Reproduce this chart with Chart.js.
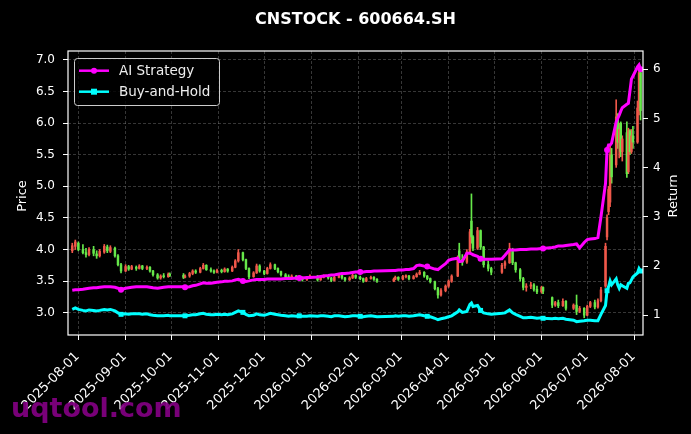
<!DOCTYPE html>
<html>
<head>
<meta charset="utf-8">
<script src="https://cdn.jsdelivr.net/npm/chart.js@4.4.1/dist/chart.umd.min.js"></script>
<style>
  html, body { margin: 0; padding: 0; background: #000; }
  #wrap { width: 691px; height: 434px; }
</style>
</head>
<body>
<div id="wrap"><canvas id="chart" width="691" height="434"></canvas></div>
<script>
// trading days (sampled), one entry per candle
const dates = [
  '2025-07-28','2025-07-30',
  '2025-08-01','2025-08-04','2025-08-06','2025-08-08','2025-08-11','2025-08-13','2025-08-15','2025-08-18','2025-08-20','2025-08-22','2025-08-25','2025-08-27','2025-08-29',
  '2025-09-01','2025-09-03','2025-09-05','2025-09-08','2025-09-10','2025-09-12','2025-09-15','2025-09-17','2025-09-19','2025-09-22','2025-09-24','2025-09-26','2025-09-29','2025-09-30',
  '2025-10-09','2025-10-10','2025-10-13','2025-10-15','2025-10-17','2025-10-20','2025-10-22','2025-10-24','2025-10-27','2025-10-29','2025-10-31',
  '2025-11-03','2025-11-05','2025-11-07','2025-11-10','2025-11-12','2025-11-14','2025-11-17','2025-11-19','2025-11-21','2025-11-24','2025-11-26','2025-11-28',
  '2025-12-01','2025-12-03','2025-12-05','2025-12-08','2025-12-10','2025-12-12','2025-12-15','2025-12-17','2025-12-19','2025-12-22','2025-12-24','2025-12-26','2025-12-29','2025-12-31',
  '2026-01-05','2026-01-07','2026-01-09','2026-01-12','2026-01-14','2026-01-16','2026-01-19','2026-01-21','2026-01-23','2026-01-26','2026-01-28','2026-01-30',
  '2026-02-02','2026-02-04','2026-02-06','2026-02-09','2026-02-11','2026-02-13','2026-02-24','2026-02-25','2026-02-27',
  '2026-03-02','2026-03-04','2026-03-06','2026-03-09','2026-03-11','2026-03-13','2026-03-16','2026-03-18','2026-03-20','2026-03-23','2026-03-25','2026-03-27','2026-03-30',
  '2026-04-01','2026-04-03','2026-04-07','2026-04-08','2026-04-10','2026-04-13','2026-04-15','2026-04-16','2026-04-17','2026-04-20','2026-04-22','2026-04-24','2026-04-27','2026-04-29',
  '2026-05-06','2026-05-08','2026-05-11','2026-05-13','2026-05-15','2026-05-18','2026-05-20','2026-05-22','2026-05-25','2026-05-27','2026-05-29',
  '2026-06-01','2026-06-02','2026-06-08','2026-06-10','2026-06-12','2026-06-15','2026-06-17','2026-06-22','2026-06-24','2026-06-26','2026-06-29',
  '2026-07-01','2026-07-03','2026-07-06','2026-07-08','2026-07-10','2026-07-13','2026-07-14','2026-07-15','2026-07-16','2026-07-17','2026-07-20','2026-07-21','2026-07-22','2026-07-23','2026-07-24','2026-07-27','2026-07-28','2026-07-29','2026-07-30','2026-07-31',
  '2026-08-03','2026-08-04','2026-08-05'
];

const open = [
  3.98, 4.05,
  4.10, 4.00, 3.95, 3.92, 4.00, 3.93, 3.90, 3.96, 4.04, 3.97, 4.02, 3.90, 3.76,
  3.66, 3.73, 3.69, 3.72, 3.70, 3.74, 3.70, 3.72, 3.66, 3.60, 3.55, 3.58, 3.57, 3.61,
  3.59, 3.56, 3.58, 3.62, 3.66, 3.64, 3.70, 3.75, 3.68, 3.66, 3.64,
  3.67, 3.65, 3.69, 3.66, 3.72, 3.82, 3.95, 3.84, 3.70, 3.57, 3.63, 3.74,
  3.66, 3.62, 3.70, 3.76, 3.70, 3.65, 3.60, 3.57, 3.55, 3.58, 3.54, 3.56, 3.52, 3.55,
  3.58, 3.52, 3.56, 3.58, 3.55, 3.51, 3.56, 3.59, 3.55, 3.52, 3.55, 3.59,
  3.56, 3.54, 3.50, 3.54, 3.56, 3.53, 3.50, 3.53, 3.56,
  3.53, 3.57, 3.58, 3.54, 3.57, 3.61, 3.64, 3.58, 3.54, 3.49, 3.38, 3.28, 3.35,
  3.42, 3.50, 3.58, 3.98, 3.84, 3.80, 3.96, 4.45, 4.20, 4.02, 4.30, 4.04, 3.76, 3.70,
  3.64, 3.75, 3.79, 4.00, 3.79, 3.68, 3.54, 3.40, 3.42, 3.44, 3.37,
  3.33, 3.40, 3.24, 3.12, 3.16, 3.11, 3.18, 3.07, 3.12, 3.02, 3.07,
  2.96, 3.10, 3.16, 3.09, 3.19, 3.42, 4.20, 4.60, 4.75, 5.50, 5.34, 6.10, 5.70, 6.00, 5.55, 5.85, 5.23, 5.88, 5.55, 5.80,
  5.70, 6.24, 6.80
];

const high = [
  4.10, 4.15,
  4.12, 4.08, 4.02, 4.03, 4.05, 3.98, 4.00, 4.08, 4.07, 4.06, 4.04, 3.92, 3.78,
  3.76, 3.75, 3.75, 3.74, 3.76, 3.75, 3.74, 3.73, 3.67, 3.62, 3.60, 3.62, 3.63, 3.63,
  3.62, 3.60, 3.64, 3.68, 3.68, 3.72, 3.78, 3.76, 3.71, 3.68, 3.69,
  3.69, 3.71, 3.70, 3.74, 3.84, 4.00, 3.96, 3.85, 3.71, 3.65, 3.77, 3.76,
  3.67, 3.72, 3.79, 3.77, 3.71, 3.66, 3.62, 3.60, 3.60, 3.59, 3.58, 3.57, 3.57, 3.60,
  3.59, 3.58, 3.60, 3.59, 3.56, 3.58, 3.61, 3.60, 3.56, 3.57, 3.61, 3.60,
  3.58, 3.55, 3.56, 3.58, 3.57, 3.54, 3.55, 3.58, 3.57,
  3.59, 3.60, 3.59, 3.59, 3.63, 3.67, 3.65, 3.59, 3.55, 3.50, 3.40, 3.38, 3.44,
  3.52, 3.60, 3.90, 4.10, 3.92, 4.00, 4.32, 4.88, 4.22, 4.35, 4.31, 4.05, 3.82, 3.72,
  3.78, 3.82, 4.10, 4.02, 3.80, 3.70, 3.56, 3.46, 3.48, 3.46, 3.42,
  3.42, 3.41, 3.25, 3.18, 3.20, 3.22, 3.19, 3.14, 3.28, 3.10, 3.08,
  3.12, 3.18, 3.20, 3.22, 3.40, 4.10, 4.55, 5.00, 5.65, 5.60, 6.37, 6.15, 6.00, 6.02, 5.80, 6.02, 5.92, 5.90, 5.90, 5.95,
  6.35, 6.87, 6.85
];

const low = [
  3.95, 4.00,
  3.98, 3.93, 3.88, 3.90, 3.90, 3.86, 3.88, 3.94, 3.95, 3.95, 3.88, 3.74, 3.63,
  3.65, 3.67, 3.68, 3.67, 3.69, 3.68, 3.68, 3.64, 3.58, 3.53, 3.53, 3.55, 3.56, 3.57,
  3.54, 3.55, 3.56, 3.60, 3.62, 3.63, 3.69, 3.67, 3.64, 3.62, 3.63,
  3.63, 3.64, 3.64, 3.65, 3.71, 3.80, 3.82, 3.68, 3.54, 3.56, 3.62, 3.64,
  3.60, 3.61, 3.69, 3.68, 3.63, 3.58, 3.55, 3.53, 3.54, 3.52, 3.52, 3.50, 3.51, 3.54,
  3.50, 3.51, 3.55, 3.53, 3.49, 3.50, 3.55, 3.53, 3.50, 3.51, 3.54, 3.54,
  3.52, 3.48, 3.49, 3.53, 3.51, 3.48, 3.49, 3.52, 3.51,
  3.52, 3.55, 3.52, 3.53, 3.56, 3.60, 3.56, 3.52, 3.47, 3.36, 3.23, 3.26, 3.33,
  3.40, 3.48, 3.57, 3.80, 3.75, 3.78, 3.94, 4.10, 3.98, 4.00, 4.00, 3.72, 3.66, 3.60,
  3.62, 3.70, 3.78, 3.76, 3.64, 3.50, 3.36, 3.34, 3.38, 3.34, 3.30,
  3.31, 3.30, 3.08, 3.10, 3.08, 3.10, 3.04, 3.05, 2.97, 3.00, 2.92,
  2.95, 3.08, 3.06, 3.07, 3.17, 3.40, 4.15, 4.55, 4.68, 5.05, 5.30, 5.60, 5.45, 5.47, 5.40, 5.14, 5.20, 5.50, 5.52, 5.60,
  5.68, 6.13, 6.05
];

const close = [
  4.06, 4.12,
  4.00, 3.95, 3.92, 4.00, 3.94, 3.90, 3.97, 4.05, 3.98, 4.03, 3.90, 3.76, 3.66,
  3.73, 3.69, 3.73, 3.70, 3.74, 3.70, 3.72, 3.66, 3.60, 3.55, 3.58, 3.57, 3.61, 3.59,
  3.56, 3.58, 3.62, 3.66, 3.64, 3.70, 3.75, 3.68, 3.66, 3.64, 3.67,
  3.65, 3.69, 3.66, 3.72, 3.82, 3.95, 3.84, 3.70, 3.57, 3.63, 3.74, 3.66,
  3.62, 3.70, 3.76, 3.70, 3.65, 3.60, 3.57, 3.55, 3.58, 3.54, 3.56, 3.52, 3.55, 3.58,
  3.52, 3.56, 3.58, 3.55, 3.51, 3.56, 3.59, 3.55, 3.52, 3.55, 3.59, 3.56,
  3.54, 3.50, 3.54, 3.56, 3.53, 3.50, 3.53, 3.56, 3.53,
  3.57, 3.58, 3.54, 3.57, 3.61, 3.64, 3.58, 3.54, 3.49, 3.38, 3.28, 3.35, 3.42,
  3.50, 3.58, 3.85, 3.84, 3.80, 3.96, 4.28, 4.20, 4.02, 4.30, 4.04, 3.76, 3.70, 3.64,
  3.75, 3.79, 4.02, 3.79, 3.68, 3.54, 3.40, 3.42, 3.44, 3.37, 3.33,
  3.40, 3.34, 3.12, 3.16, 3.11, 3.18, 3.07, 3.12, 3.02, 3.07, 2.96,
  3.10, 3.16, 3.09, 3.19, 3.36, 4.05, 4.50, 4.95, 5.50, 5.15, 6.10, 5.70, 5.90, 5.55, 5.75, 5.20, 5.88, 5.55, 5.80, 5.70,
  6.24, 6.80, 6.20
];

// cumulative return (right axis)
const aiReturn = [
  1.51, 1.52,
  1.52, 1.53, 1.54, 1.55, 1.56, 1.56, 1.57, 1.58, 1.58, 1.58, 1.57, 1.55, 1.52,
  1.55, 1.56, 1.57, 1.58, 1.58, 1.58, 1.58, 1.57, 1.56, 1.55, 1.56, 1.57, 1.58, 1.58,
  1.58, 1.57, 1.58, 1.60, 1.61, 1.64, 1.66, 1.65, 1.65, 1.66, 1.67,
  1.68, 1.69, 1.69, 1.70, 1.72, 1.73, 1.70, 1.69, 1.70, 1.72, 1.73, 1.73,
  1.73, 1.74, 1.74, 1.74, 1.74, 1.74, 1.75, 1.75, 1.75, 1.76, 1.76, 1.76, 1.77, 1.77,
  1.78, 1.79, 1.80, 1.81, 1.82, 1.82, 1.84, 1.85, 1.85, 1.86, 1.87, 1.88,
  1.88, 1.88, 1.89, 1.89, 1.90, 1.90, 1.91, 1.91, 1.92,
  1.92, 1.93, 1.93, 1.95, 2.01, 2.02, 2.00, 1.99, 1.97, 1.94, 1.93, 1.98, 2.05,
  2.12, 2.14, 2.16, 2.09, 2.10, 2.26, 2.26, 2.25, 2.23, 2.20, 2.15, 2.14, 2.14, 2.14,
  2.15, 2.22, 2.33, 2.33, 2.33, 2.34, 2.34, 2.34, 2.35, 2.35, 2.35,
  2.36, 2.36, 2.38, 2.39, 2.41, 2.41, 2.42, 2.44, 2.45, 2.37, 2.48,
  2.54, 2.55, 2.56, 2.58, 3.00, 3.68, 4.36, 4.46, 4.46, 4.50, 4.93, 5.00, 5.07, 5.15, 5.22, 5.29, 5.31, 5.55, 5.80, 5.86,
  6.05, 6.09, 6.00
];

const holdReturn = [
  1.12, 1.15,
  1.12, 1.10, 1.09, 1.11, 1.10, 1.09, 1.10, 1.12, 1.11, 1.12, 1.09, 1.05, 1.02,
  1.03, 1.02, 1.03, 1.03, 1.03, 1.02, 1.03, 1.01, 1.00, 0.99, 0.99, 0.99, 1.00, 0.99,
  0.99, 0.99, 1.00, 1.01, 1.01, 1.03, 1.04, 1.02, 1.01, 1.01, 1.02,
  1.01, 1.02, 1.01, 1.03, 1.06, 1.09, 1.06, 1.02, 0.99, 1.00, 1.03, 1.01,
  1.00, 1.02, 1.04, 1.02, 1.01, 1.00, 0.99, 0.98, 0.99, 0.98, 0.99, 0.98, 0.98, 0.99,
  0.98, 0.99, 0.99, 0.98, 0.97, 0.99, 0.99, 0.98, 0.97, 0.98, 0.99, 0.99,
  0.98, 0.97, 0.98, 0.99, 0.98, 0.97, 0.98, 0.99, 0.98,
  0.99, 0.99, 0.98, 0.99, 1.00, 1.01, 0.99, 0.98, 0.97, 0.94, 0.91, 0.93, 0.95,
  0.97, 0.99, 1.07, 1.11, 1.06, 1.08, 1.22, 1.25, 1.18, 1.20, 1.10, 1.05, 1.03, 1.02,
  1.04, 1.05, 1.11, 1.05, 1.02, 0.98, 0.95, 0.95, 0.96, 0.95, 0.94,
  0.95, 0.94, 0.93, 0.94, 0.93, 0.94, 0.92, 0.90, 0.87, 0.88, 0.89,
  0.90, 0.90, 0.89, 0.89, 1.02, 1.20, 1.50, 1.58, 1.70, 1.62, 1.74, 1.62, 1.55, 1.62, 1.60, 1.55, 1.65, 1.66, 1.72, 1.78,
  1.86, 1.95, 1.90
];

const tickDates = [
  '2025-08-01','2025-09-01','2025-10-01','2025-11-01','2025-12-01','2026-01-01','2026-02-01',
  '2026-03-01','2026-04-01','2026-05-01','2026-06-01','2026-07-01','2026-08-01'
];

const UP = '#f0584a';
const DOWN = '#66e84a';
const AI_COLOR = '#ff00ff';
const BH_COLOR = '#00ffff';

// days since 2025-08-01
function dayNum(s) {
  const [y, m, d] = s.split('-').map(Number);
  return (Date.UTC(y, m - 1, d) - Date.UTC(2025, 7, 1)) / 86400000;
}
const xs = dates.map(dayNum);
const candleColor = i => (close[i] >= open[i] ? UP : DOWN);
const markerAt = i => i % 16 === 14;

Chart.defaults.font.family = 'DejaVu Sans';
Chart.defaults.font.size = 12;
Chart.defaults.color = '#ffffff';

const decor = {
  id: 'decor',
  beforeDraw(chart) {
    const c = chart.ctx;
    c.save();
    c.fillStyle = '#000';
    c.fillRect(0, 0, chart.width, chart.height);
    c.restore();
  },
  afterDraw(chart) {
    const c = chart.ctx;
    const a = chart.chartArea;
    c.save();
    // frame
    c.strokeStyle = '#ffffff';
    c.lineWidth = 1.2;
    c.strokeRect(a.left, a.top, a.right - a.left, a.bottom - a.top);

    // title
    c.fillStyle = '#ffffff';
    c.font = 'bold 16px "DejaVu Sans"';
    c.textAlign = 'center';
    c.textBaseline = 'alphabetic';
    c.fillText('CNSTOCK - 600664.SH', (a.left + a.right) / 2, 24);

    // date labels, rotated 45 degrees, right end under the tick
    c.font = '13px "DejaVu Sans"';
    c.textAlign = 'right';
    c.textBaseline = 'alphabetic';
    const xScale = chart.scales.x;
    tickDates.forEach(d => {
      const px = xScale.getPixelForValue(dayNum(d));
      c.save();
      c.translate(px + 1.5, a.bottom + 22);
      c.rotate(-Math.PI / 4);
      c.fillText(d, 0, 0);
      c.restore();
    });

    // axis titles
    c.font = '13px "DejaVu Sans"';
    c.textAlign = 'center';
    c.textBaseline = 'middle';
    c.save();
    c.translate(22.5, 196);
    c.rotate(-Math.PI / 2);
    c.fillText('Price', 0, 0);
    c.restore();
    c.save();
    c.translate(673.5, 196);
    c.rotate(-Math.PI / 2);
    c.fillText('Return', 0, 0);
    c.restore();

    // legend
    const bx = a.left + 6, by = a.top + 7, bw = 145, bh = 47;
    c.fillStyle = 'rgba(0,0,0,0.8)';
    c.strokeStyle = '#cccccc';
    c.lineWidth = 1;
    c.beginPath();
    c.roundRect(bx + 0.5, by + 0.5, bw, bh, 3);
    c.fill();
    c.stroke();
    const items = [
      { label: 'AI Strategy', color: AI_COLOR, square: false, y: by + 12.7 },
      { label: 'Buy-and-Hold', color: BH_COLOR, square: true, y: by + 33.7 }
    ];
    items.forEach(it => {
      c.strokeStyle = it.color;
      c.lineWidth = 2.5;
      c.beginPath();
      c.moveTo(bx + 5, it.y);
      c.lineTo(bx + 35, it.y);
      c.stroke();
      c.fillStyle = it.color;
      if (it.square) {
        c.fillRect(bx + 17, it.y - 3, 6, 6);
      } else {
        c.beginPath();
        c.arc(bx + 20, it.y, 3, 0, Math.PI * 2);
        c.fill();
      }
      c.fillStyle = '#eeeeee';
      c.font = '13.5px "DejaVu Sans"';
      c.textAlign = 'left';
      c.textBaseline = 'middle';
      c.fillText(it.label, bx + 45, it.y + 0.5);
    });

    // watermark
    c.fillStyle = 'rgba(130,0,130,0.92)';
    c.font = 'bold 27px "DejaVu Sans"';
    c.textAlign = 'left';
    c.textBaseline = 'alphabetic';
    c.fillText('uqtool.com', 11, 417);
    c.restore();
  }
};

new Chart(document.getElementById('chart'), {
  type: 'bar',
  data: {
    datasets: [
      {
        type: 'line',
        label: 'AI Strategy',
        data: xs.map((x, i) => ({ x, y: aiReturn[i] })),
        yAxisID: 'y2',
        borderColor: AI_COLOR,
        backgroundColor: AI_COLOR,
        borderWidth: 3,
        pointStyle: 'circle',
        pointRadius: ctx => (markerAt(ctx.dataIndex) ? 3 : 0),
        pointBorderWidth: 0,
        tension: 0,
        order: 1
      },
      {
        type: 'line',
        label: 'Buy-and-Hold',
        data: xs.map((x, i) => ({ x, y: holdReturn[i] })),
        yAxisID: 'y2',
        borderColor: BH_COLOR,
        backgroundColor: BH_COLOR,
        borderWidth: 3,
        pointStyle: 'rect',
        pointRadius: ctx => (markerAt(ctx.dataIndex) ? 3.5 : 0),
        pointBorderWidth: 0,
        tension: 0,
        order: 1
      },
      {
        label: 'body',
        data: xs.map((x, i) => ({ x, y: [open[i], close[i]] })),
        yAxisID: 'y',
        backgroundColor: ctx => candleColor(ctx.dataIndex),
        barThickness: 1.8,
        minBarLength: 1,
        grouped: false,
        order: 2
      },
      {
        label: 'wick',
        data: xs.map((x, i) => ({ x, y: [low[i], high[i]] })),
        yAxisID: 'y',
        backgroundColor: ctx => candleColor(ctx.dataIndex),
        barThickness: 1,
        grouped: false,
        order: 3
      }
    ]
  },
  options: {
    responsive: false,
    animation: false,
    layout: { padding: { top: 51, left: 0, right: 0, bottom: 0 } },
    plugins: {
      legend: { display: false },
      title: { display: false },
      tooltip: { enabled: false }
    },
    scales: {
      x: {
        type: 'linear',
        offset: false,
        min: -6.8,
        max: 370.6,
        afterBuildTicks: scale => {
          scale.ticks = tickDates.map(d => ({ value: dayNum(d) }));
        },
        afterFit: scale => { scale.height = 99; },
        ticks: { display: false },
        grid: {
          offset: false,
          color: 'rgba(150,150,150,0.45)',
          lineWidth: 0.8,
          tickLength: 5,
          tickColor: '#ffffff',
          tickWidth: 1,
          tickBorderDash: []
        },
        border: { display: false, dash: [3, 2] }
      },
      y: {
        position: 'left',
        min: 2.647,
        max: 7.142,
        afterFit: scale => { scale.width = 68; },
        ticks: {
          stepSize: 0.5,
          includeBounds: false,
          padding: 8,
          color: '#ffffff',
          callback: v => v.toFixed(1)
        },
        grid: {
          color: 'rgba(150,150,150,0.45)',
          lineWidth: 0.8,
          tickLength: 5,
          tickColor: '#ffffff',
          tickWidth: 1,
          tickBorderDash: []
        },
        border: { display: false, dash: [3, 2] }
      },
      y2: {
        position: 'right',
        min: 0.6,
        max: 6.372,
        afterFit: scale => { scale.width = 48; },
        ticks: {
          stepSize: 1,
          includeBounds: false,
          padding: 5,
          color: '#ffffff'
        },
        grid: {
          drawOnChartArea: false,
          tickLength: 5,
          tickColor: '#ffffff',
          tickWidth: 1
        },
        border: { display: false }
      }
    }
  },
  plugins: [decor]
});
</script>
</body>
</html>
